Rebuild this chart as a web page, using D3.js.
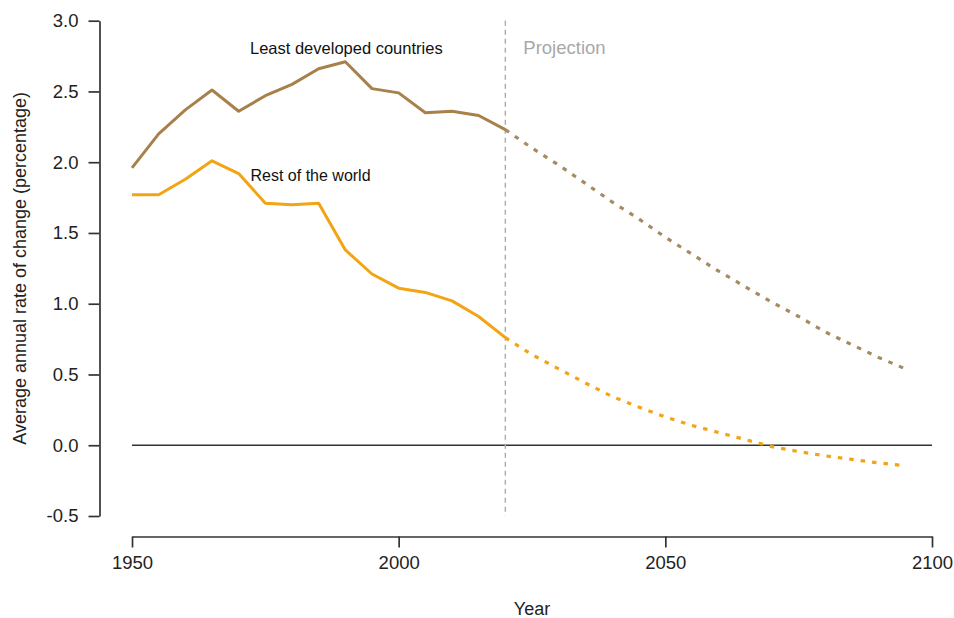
<!DOCTYPE html>
<html>
<head>
<meta charset="utf-8">
<script src="https://cdn.jsdelivr.net/npm/d3@7"></script>
<style>
  html, body { margin: 0; padding: 0; background: #fff; }
  svg { display: block; font-family: "Liberation Sans", Arial, sans-serif; }
</style>
</head>
<body>
<svg id="chart" width="954" height="618"></svg>
<script>
const histYears = [1950, 1955, 1960, 1965, 1970, 1975, 1980, 1985, 1990, 1995, 2000, 2005, 2010, 2015, 2020];
const ldcHist   = [1.96, 2.20, 2.37, 2.51, 2.36, 2.47, 2.55, 2.66, 2.71, 2.52, 2.49, 2.35, 2.36, 2.33, 2.23];
const rowHist   = [1.77, 1.77, 1.88, 2.01, 1.92, 1.71, 1.70, 1.71, 1.38, 1.21, 1.11, 1.08, 1.02, 0.91, 0.76];

const projYears = [2020, 2025, 2030, 2035, 2040, 2045, 2050, 2055, 2060, 2065, 2070, 2075, 2080, 2085, 2090, 2095];
const ldcProj   = [2.23, 2.10, 1.98, 1.85, 1.72, 1.60, 1.47, 1.35, 1.23, 1.12, 1.01, 0.91, 0.80, 0.71, 0.62, 0.54];
const rowProj   = [0.76, 0.64, 0.54, 0.44, 0.345, 0.27, 0.20, 0.14, 0.09, 0.04, -0.01, -0.045, -0.075, -0.10, -0.125, -0.145];

const xTicks = [1950, 2000, 2050, 2100];
const yTicks = [-0.5, 0.0, 0.5, 1.0, 1.5, 2.0, 2.5, 3.0];
const yTickLabels = ["-0.5", "0.0", "0.5", "1.0", "1.5", "2.0", "2.5", "3.0"];
const projectionStart = 2020;

const seriesNames = ["Least developed countries", "Rest of the world"];
const axisTitles = { x: "Year", y: "Average annual rate of change (percentage)" };
const projectionLabel = "Projection";

const colLDC = "#a8804a";
const colLDCproj = "#a58a62";
const colROW = "#f2a413";

const svg = d3.select("#chart");
const x = d3.scaleLinear().domain([1950, 2100]).range([132, 932]);
const y = d3.scaleLinear().domain([-0.5, 3.0]).range([516, 20.7]);

// Y axis
const yAxis = svg.append("g")
  .attr("transform", "translate(99.5,0)")
  .call(d3.axisLeft(y).tickValues(yTicks)
    .tickFormat((d, i) => yTickLabels[i])
    .tickSize(11).tickSizeOuter(0).tickPadding(10));
yAxis.selectAll("text").attr("font-size", 18.5).attr("fill", "#222")
  .style("font-family", "'Liberation Sans', Arial, sans-serif");

// X axis
const xAxis = svg.append("g")
  .attr("transform", "translate(0,536.5)")
  .call(d3.axisBottom(x).tickValues(xTicks).tickFormat(d3.format("d"))
    .tickSize(11).tickSizeOuter(0).tickPadding(8));
xAxis.selectAll("text").attr("font-size", 18.5).attr("fill", "#222")
  .style("font-family", "'Liberation Sans', Arial, sans-serif");

[yAxis, xAxis].forEach(a => {
  a.select(".domain").attr("stroke", "#333").attr("stroke-width", 1.7);
  a.selectAll(".tick line").attr("stroke", "#333").attr("stroke-width", 1.7);
});

// Axis titles
svg.append("text")
  .attr("x", x(2025)).attr("y", 615)
  .attr("text-anchor", "middle")
  .attr("font-size", 18).attr("fill", "#222")
  .text(axisTitles.x);

svg.append("text")
  .attr("transform", `translate(26,${y(1.25)}) rotate(-90)`)
  .attr("text-anchor", "middle")
  .attr("font-size", 18).attr("fill", "#222")
  .text(axisTitles.y);

// Zero line
svg.append("line")
  .attr("x1", x(1950)).attr("x2", x(2100))
  .attr("y1", y(0)).attr("y2", y(0))
  .attr("stroke", "#333").attr("stroke-width", 1.7);

// Projection divider
svg.append("line")
  .attr("x1", x(projectionStart)).attr("x2", x(projectionStart))
  .attr("y1", y(3.0)).attr("y2", y(-0.5))
  .attr("stroke", "#aaaaaa").attr("stroke-width", 1.4)
  .attr("stroke-dasharray", "5,4");

svg.append("text")
  .attr("x", x(projectionStart) + 18).attr("y", 54)
  .attr("font-size", 18.5).attr("fill", "#a8a8a8")
  .text(projectionLabel);

const line = d3.line().x(d => x(d[0])).y(d => y(d[1]));

function draw(years, vals, color, dashed) {
  const p = svg.append("path")
    .datum(years.map((yr, i) => [yr, vals[i]]))
    .attr("fill", "none")
    .attr("stroke", color)
    .attr("stroke-width", dashed ? 3.2 : 3)
    .attr("stroke-linejoin", "round")
    .attr("d", line);
  if (dashed) p.attr("stroke-dasharray", "4.5,7");
}

draw(projYears, ldcProj, colLDCproj, true);
draw(projYears, rowProj, colROW, true);
draw(histYears, ldcHist, colLDC, false);
draw(histYears, rowHist, colROW, false);

// Series labels
svg.append("text")
  .attr("x", 250).attr("y", 54)
  .attr("font-size", 16.5).attr("fill", "#111")
  .text(seriesNames[0]);
svg.append("text")
  .attr("x", 250.5).attr("y", 181)
  .attr("font-size", 16).attr("fill", "#111")
  .text(seriesNames[1]);
</script>
</body>
</html>
